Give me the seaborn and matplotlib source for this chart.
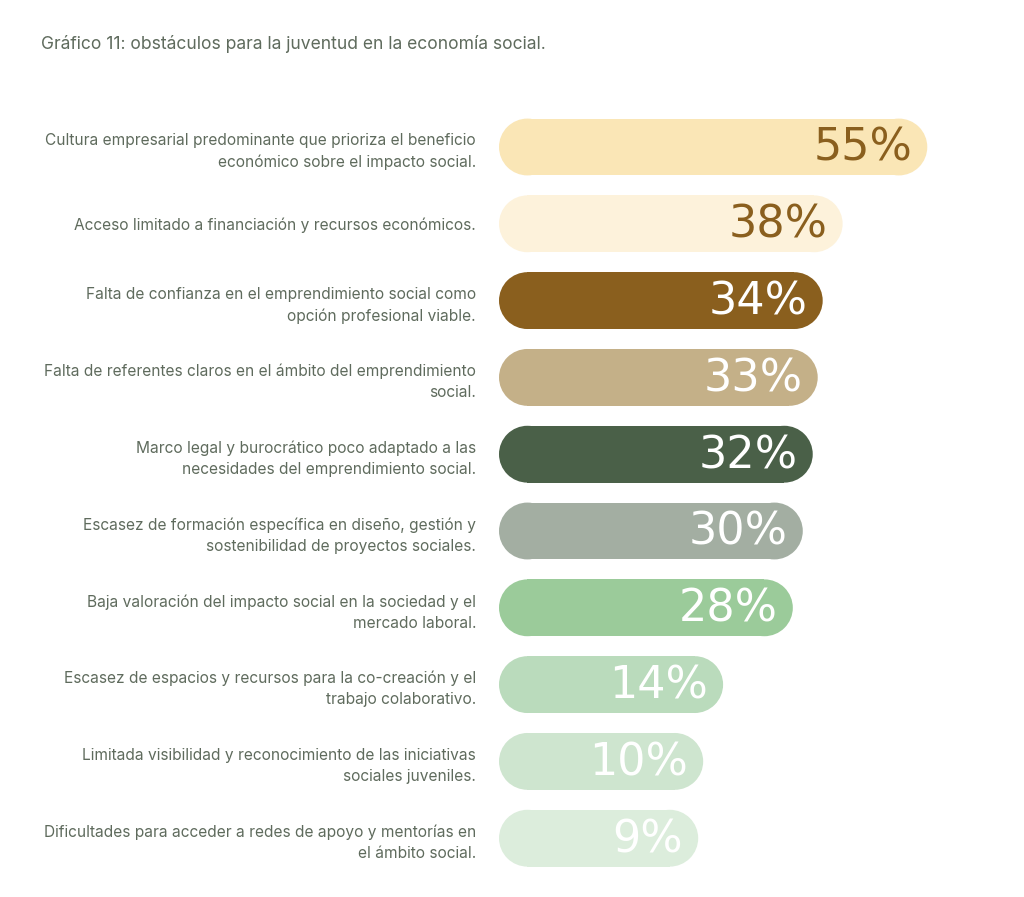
import matplotlib
matplotlib.use("Agg")
import matplotlib.pyplot as plt
from matplotlib.patches import Rectangle, Ellipse
import seaborn as sns
import pandas as pd

title = "Gráfico 11: obstáculos para la juventud en la economía social."
categories = [
    "Cultura empresarial predominante que prioriza el beneficio\neconómico sobre el impacto social.",
    "Acceso limitado a financiación y recursos económicos.",
    "Falta de confianza en el emprendimiento social como\nopción profesional viable.",
    "Falta de referentes claros en el ámbito del emprendimiento\nsocial.",
    "Marco legal y burocrático poco adaptado a las\nnecesidades del emprendimiento social.",
    "Escasez de formación específica en diseño, gestión y\nsostenibilidad de proyectos sociales.",
    "Baja valoración del impacto social en la sociedad y el\nmercado laboral.",
    "Escasez de espacios y recursos para la co-creación y el\ntrabajo colaborativo.",
    "Limitada visibilidad y reconocimiento de las iniciativas\nsociales juveniles.",
    "Dificultades para acceder a redes de apoyo y mentorías en\nel ámbito social.",
]
values = [55, 38, 34, 33, 32, 30, 28, 14, 10, 9]
bar_colors = ["#FAE6B6", "#FDF2DB", "#8A5F1E", "#C4B088", "#4A6048",
              "#A3AEA2", "#9BCB9A", "#BADBBC", "#CEE5CF", "#DCEDDC"]
text_colors = ["#8A5F1E", "#8A5F1E", "white", "white", "white",
               "white", "white", "white", "white", "white"]

sns.set_theme(style="white")
plt.rcParams["font.family"] = ["Inter", "DejaVu Sans"]

W, H = 1024, 897
fig = plt.figure(figsize=(W / 100, H / 100), dpi=100)
fig.patch.set_facecolor("white")

base = -31.0          # visual baseline offset of the pills (in % units)
px_per_unit = 4.98
ax_left_px = 499
x_max = 70.0
ax_w_px = (x_max - base) * px_per_unit
row_px = 76.8
top_px = 147 - row_px / 2
ax_h_px = row_px * len(values)
ax = fig.add_axes([ax_left_px / W, (H - top_px - ax_h_px) / H, ax_w_px / W, ax_h_px / H])

df = pd.DataFrame({"cat": categories, "val": values})
bar_h = 0.74
sns.barplot(data=df, y="cat", x="val", hue="cat", palette=bar_colors,
            saturation=1, legend=False, width=bar_h, ax=ax, orient="h")

ax.set_xlim(base, x_max)
ax.set_ylim(len(values) - 0.5, -0.5)

# replace rectangular bars with pill shapes (rectangle + two end caps)
r_x = (bar_h / 2) * row_px / px_per_unit
for p, v, tc in zip(list(ax.patches), values, text_colors):
    y0 = p.get_y()
    h = p.get_height()
    yc = y0 + h / 2
    right = p.get_x() + p.get_width()
    fc = p.get_facecolor()
    p.set_visible(False)
    ax.add_patch(Rectangle((base + r_x, y0), right - base - 2 * r_x, h,
                           facecolor=fc, edgecolor="none", zorder=2))
    for cx in (base + r_x, right - r_x):
        ax.add_patch(Ellipse((cx, yc), 2 * r_x, h, facecolor=fc,
                             edgecolor="none", zorder=2))
    ax.annotate(f"{v}%", xy=(right, yc), xytext=(-11, -1),
                textcoords="offset points", ha="right", va="center",
                fontsize=32, color=tc, family="DejaVu Sans", zorder=3)

ax.set_xlabel("")
ax.set_ylabel("")
ax.set_xticks([])
ax.tick_params(axis="y", length=0, pad=16.5)
for lbl in ax.get_yticklabels():
    lbl.set_ha("right")
    lbl.set_fontsize(11.15)
    lbl.set_color("#5F6B5D")
    lbl.set_linespacing(1.5)
for s in ax.spines.values():
    s.set_visible(False)

fig.text(41 / W, 1 - 44 / H, title, ha="left", va="center",
         fontsize=12.6, color="#5F6B5D")

fig.savefig("out.png", dpi=100, facecolor="white")
